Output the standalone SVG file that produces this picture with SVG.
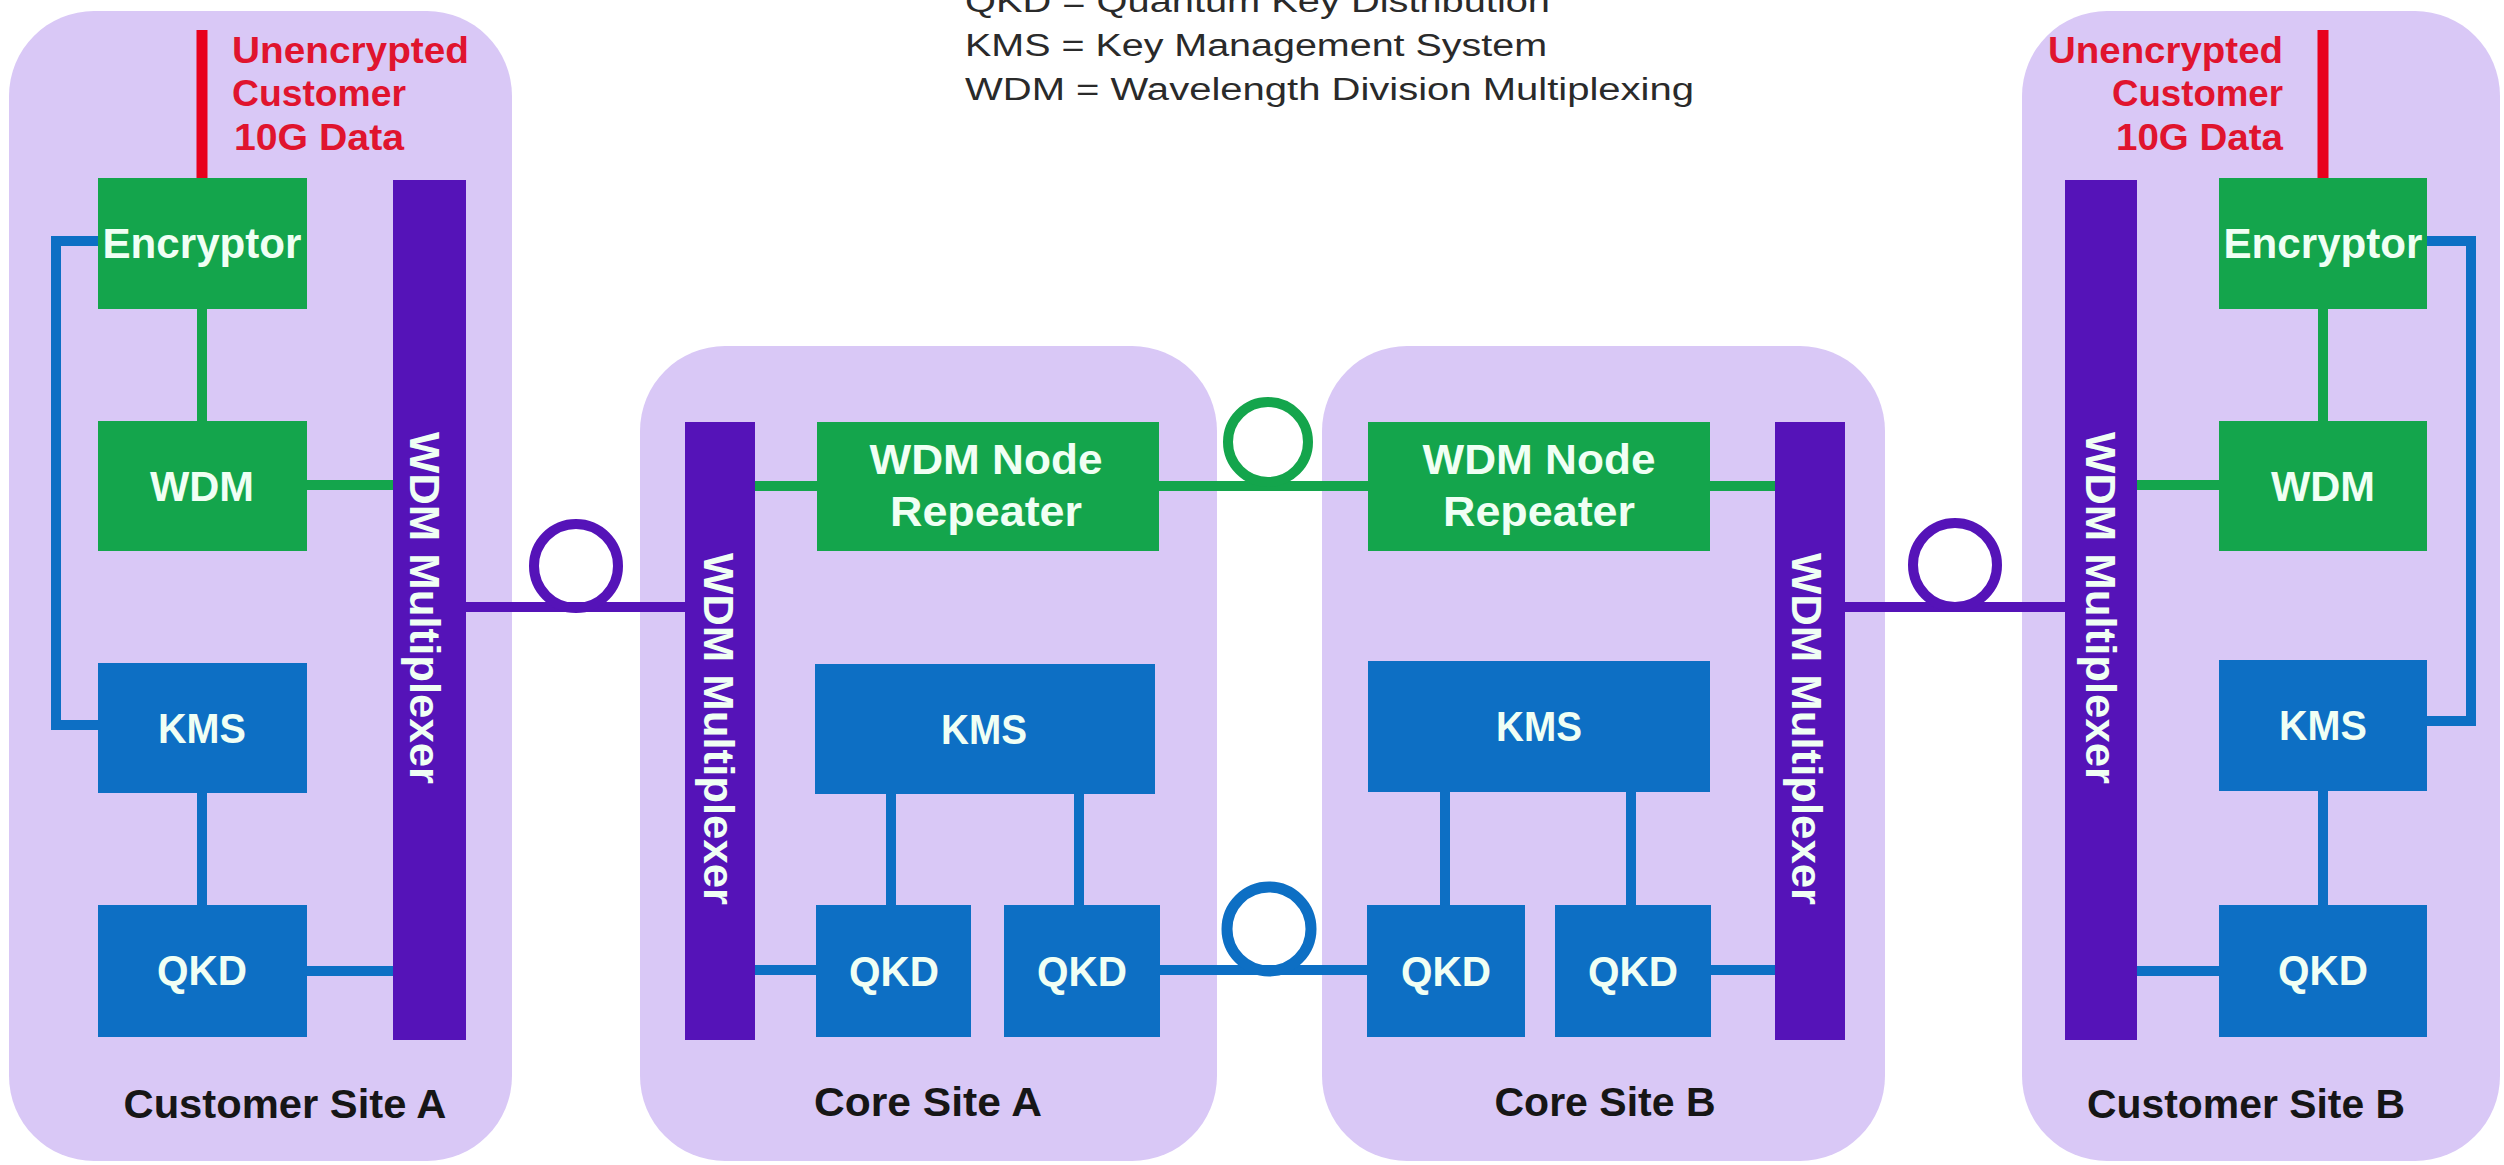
<svg xmlns="http://www.w3.org/2000/svg" width="2504" height="1165" viewBox="0 0 2504 1165">
<style>
.panel{fill:#D9C8F6}
.mux{fill:#5513B8}
.g{fill:#14A54C}
.b{fill:#0D6FC4}
.lbl{font-family:"Liberation Sans",Arial,sans-serif;font-weight:bold;fill:#F0FFF4;text-anchor:middle;font-size:42px}
.site{font-family:"Liberation Sans",Arial,sans-serif;font-weight:bold;fill:#161616;text-anchor:middle;font-size:40px}
.red{font-family:"Liberation Sans",Arial,sans-serif;font-weight:bold;fill:#E0142E;font-size:37px}
.legend{font-family:"Liberation Sans",Arial,sans-serif;fill:#2A2A2A;font-size:31px}
.cg{stroke:#14A54C;stroke-width:10;fill:none}
.cb{stroke:#0D6FC4;stroke-width:10;fill:none}
.cp{stroke:#5513B8;stroke-width:10;fill:none}
.cr{stroke:#E8001C;stroke-width:11;fill:none}
</style>
<rect width="2504" height="1165" fill="#FFFFFF"/>

<g id="legend">
<text class="legend" x="965" y="12" textLength="585" lengthAdjust="spacingAndGlyphs">QKD = Quantum Key Distribution</text>
<text class="legend" x="965" y="56" textLength="582" lengthAdjust="spacingAndGlyphs">KMS = Key Management System</text>
<text class="legend" x="965" y="100" textLength="729" lengthAdjust="spacingAndGlyphs">WDM = Wavelength Division Multiplexing</text>
</g>

<g id="customer-site-a">
<rect class="panel" x="9" y="11" width="503" height="1150" rx="85" ry="85"/>
<text class="site" x="285" y="1118" textLength="323" lengthAdjust="spacingAndGlyphs">Customer Site A</text>
</g>
<g id="core-site-a">
<rect class="panel" x="640" y="346" width="577" height="815" rx="85" ry="85"/>
<text class="site" x="928" y="1116" textLength="228" lengthAdjust="spacingAndGlyphs">Core Site A</text>
</g>
<g id="core-site-b">
<rect class="panel" x="1322" y="346" width="563" height="815" rx="85" ry="85"/>
<text class="site" x="1605" y="1116" textLength="221" lengthAdjust="spacingAndGlyphs">Core Site B</text>
</g>
<g id="customer-site-b">
<rect class="panel" x="2022" y="11" width="478" height="1150" rx="85" ry="85"/>
<text class="site" x="2246" y="1118" textLength="318" lengthAdjust="spacingAndGlyphs">Customer Site B</text>
</g>

<g id="connectors">
<line class="cr" x1="202" y1="30" x2="202" y2="178"/>
<line class="cr" x1="2323" y1="30" x2="2323" y2="178"/>
<line class="cg" x1="202" y1="309" x2="202" y2="421"/>
<line class="cg" x1="307" y1="485" x2="393" y2="485"/>
<line class="cg" x1="755" y1="486" x2="817" y2="486"/>
<line class="cg" x1="1159" y1="486" x2="1368" y2="486"/>
<circle class="cg" cx="1268" cy="442" r="40"/>
<line class="cg" x1="1710" y1="486" x2="1775" y2="486"/>
<line class="cg" x1="2137" y1="485" x2="2219" y2="485"/>
<line class="cg" x1="2323" y1="309" x2="2323" y2="421"/>
<polyline class="cb" points="98,241 56,241 56,725 98,725"/>
<line class="cb" x1="202" y1="793" x2="202" y2="905"/>
<line class="cb" x1="307" y1="971" x2="393" y2="971"/>
<line class="cb" x1="755" y1="970" x2="816" y2="970"/>
<line class="cb" x1="891" y1="794" x2="891" y2="905"/>
<line class="cb" x1="1079" y1="794" x2="1079" y2="905"/>
<line class="cb" x1="1160" y1="970" x2="1367" y2="970"/>
<circle class="cb" cx="1269" cy="929" r="42" style="stroke-width:11"/>
<line class="cb" x1="1445" y1="792" x2="1445" y2="905"/>
<line class="cb" x1="1631" y1="792" x2="1631" y2="905"/>
<line class="cb" x1="1711" y1="970" x2="1775" y2="970"/>
<polyline class="cb" points="2427,241 2471,241 2471,721 2427,721"/>
<line class="cb" x1="2323" y1="791" x2="2323" y2="905"/>
<line class="cb" x1="2137" y1="971" x2="2219" y2="971"/>
<line class="cp" x1="466" y1="607" x2="685" y2="607"/>
<circle class="cp" cx="576" cy="566" r="42"/>
<line class="cp" x1="1845" y1="607" x2="2065" y2="607"/>
<circle class="cp" cx="1955" cy="565" r="42"/>
</g>

<g id="unencrypted-a">
<text class="red" x="232" y="63" textLength="237" lengthAdjust="spacingAndGlyphs">Unencrypted</text>
<text class="red" x="232" y="106" textLength="174" lengthAdjust="spacingAndGlyphs">Customer</text>
<text class="red" x="234" y="150" textLength="170" lengthAdjust="spacingAndGlyphs">10G Data</text>
</g>
<g id="unencrypted-b">
<text class="red" x="2283" y="63" text-anchor="end" textLength="235" lengthAdjust="spacingAndGlyphs">Unencrypted</text>
<text class="red" x="2283" y="106" text-anchor="end" textLength="171" lengthAdjust="spacingAndGlyphs">Customer</text>
<text class="red" x="2283" y="150" text-anchor="end" textLength="167" lengthAdjust="spacingAndGlyphs">10G Data</text>
</g>

<g id="encryptor-a"><rect class="g" x="98" y="178" width="209" height="131"/><text class="lbl" x="202" y="258" textLength="199" lengthAdjust="spacingAndGlyphs">Encryptor</text></g>
<g id="wdm-a"><rect class="g" x="98" y="421" width="209" height="130"/><text class="lbl" x="202" y="501" textLength="104" lengthAdjust="spacingAndGlyphs">WDM</text></g>
<g id="kms-a"><rect class="b" x="98" y="663" width="209" height="130"/><text class="lbl" x="202" y="743" textLength="88" lengthAdjust="spacingAndGlyphs">KMS</text></g>
<g id="qkd-a"><rect class="b" x="98" y="905" width="209" height="132"/><text class="lbl" x="202" y="985" textLength="90" lengthAdjust="spacingAndGlyphs">QKD</text></g>
<g id="mux-customer-a"><rect class="mux" x="393" y="180" width="73" height="860"/><text class="lbl" transform="translate(410,608) rotate(90)" x="0" y="0" textLength="352" lengthAdjust="spacingAndGlyphs">WDM Multiplexer</text></g>

<g id="mux-core-a"><rect class="mux" x="685" y="422" width="70" height="618"/><text class="lbl" transform="translate(704,729) rotate(90)" x="0" y="0" textLength="352" lengthAdjust="spacingAndGlyphs">WDM Multiplexer</text></g>
<g id="repeater-a"><rect class="g" x="817" y="422" width="342" height="129"/><text class="lbl" x="986" y="474" textLength="233" lengthAdjust="spacingAndGlyphs">WDM Node</text><text class="lbl" x="986" y="526" textLength="192" lengthAdjust="spacingAndGlyphs">Repeater</text></g>
<g id="kms-core-a"><rect class="b" x="815" y="664" width="340" height="130"/><text class="lbl" x="984" y="744" textLength="86" lengthAdjust="spacingAndGlyphs">KMS</text></g>
<g id="qkd-core-a1"><rect class="b" x="816" y="905" width="155" height="132"/><text class="lbl" x="894" y="986" textLength="90" lengthAdjust="spacingAndGlyphs">QKD</text></g>
<g id="qkd-core-a2"><rect class="b" x="1004" y="905" width="156" height="132"/><text class="lbl" x="1082" y="986" textLength="90" lengthAdjust="spacingAndGlyphs">QKD</text></g>

<g id="repeater-b"><rect class="g" x="1368" y="422" width="342" height="129"/><text class="lbl" x="1539" y="474" textLength="233" lengthAdjust="spacingAndGlyphs">WDM Node</text><text class="lbl" x="1539" y="526" textLength="192" lengthAdjust="spacingAndGlyphs">Repeater</text></g>
<g id="kms-core-b"><rect class="b" x="1368" y="661" width="342" height="131"/><text class="lbl" x="1539" y="741" textLength="86" lengthAdjust="spacingAndGlyphs">KMS</text></g>
<g id="qkd-core-b1"><rect class="b" x="1367" y="905" width="158" height="132"/><text class="lbl" x="1446" y="986" textLength="90" lengthAdjust="spacingAndGlyphs">QKD</text></g>
<g id="qkd-core-b2"><rect class="b" x="1555" y="905" width="156" height="132"/><text class="lbl" x="1633" y="986" textLength="90" lengthAdjust="spacingAndGlyphs">QKD</text></g>
<g id="mux-core-b"><rect class="mux" x="1775" y="422" width="70" height="618"/><text class="lbl" transform="translate(1792,729) rotate(90)" x="0" y="0" textLength="352" lengthAdjust="spacingAndGlyphs">WDM Multiplexer</text></g>

<g id="mux-customer-b"><rect class="mux" x="2065" y="180" width="72" height="860"/><text class="lbl" transform="translate(2086,608) rotate(90)" x="0" y="0" textLength="352" lengthAdjust="spacingAndGlyphs">WDM Multiplexer</text></g>
<g id="encryptor-b"><rect class="g" x="2219" y="178" width="208" height="131"/><text class="lbl" x="2323" y="258" textLength="199" lengthAdjust="spacingAndGlyphs">Encryptor</text></g>
<g id="wdm-b"><rect class="g" x="2219" y="421" width="208" height="130"/><text class="lbl" x="2323" y="501" textLength="104" lengthAdjust="spacingAndGlyphs">WDM</text></g>
<g id="kms-b"><rect class="b" x="2219" y="660" width="208" height="131"/><text class="lbl" x="2323" y="740" textLength="88" lengthAdjust="spacingAndGlyphs">KMS</text></g>
<g id="qkd-b"><rect class="b" x="2219" y="905" width="208" height="132"/><text class="lbl" x="2323" y="985" textLength="90" lengthAdjust="spacingAndGlyphs">QKD</text></g>
</svg>
